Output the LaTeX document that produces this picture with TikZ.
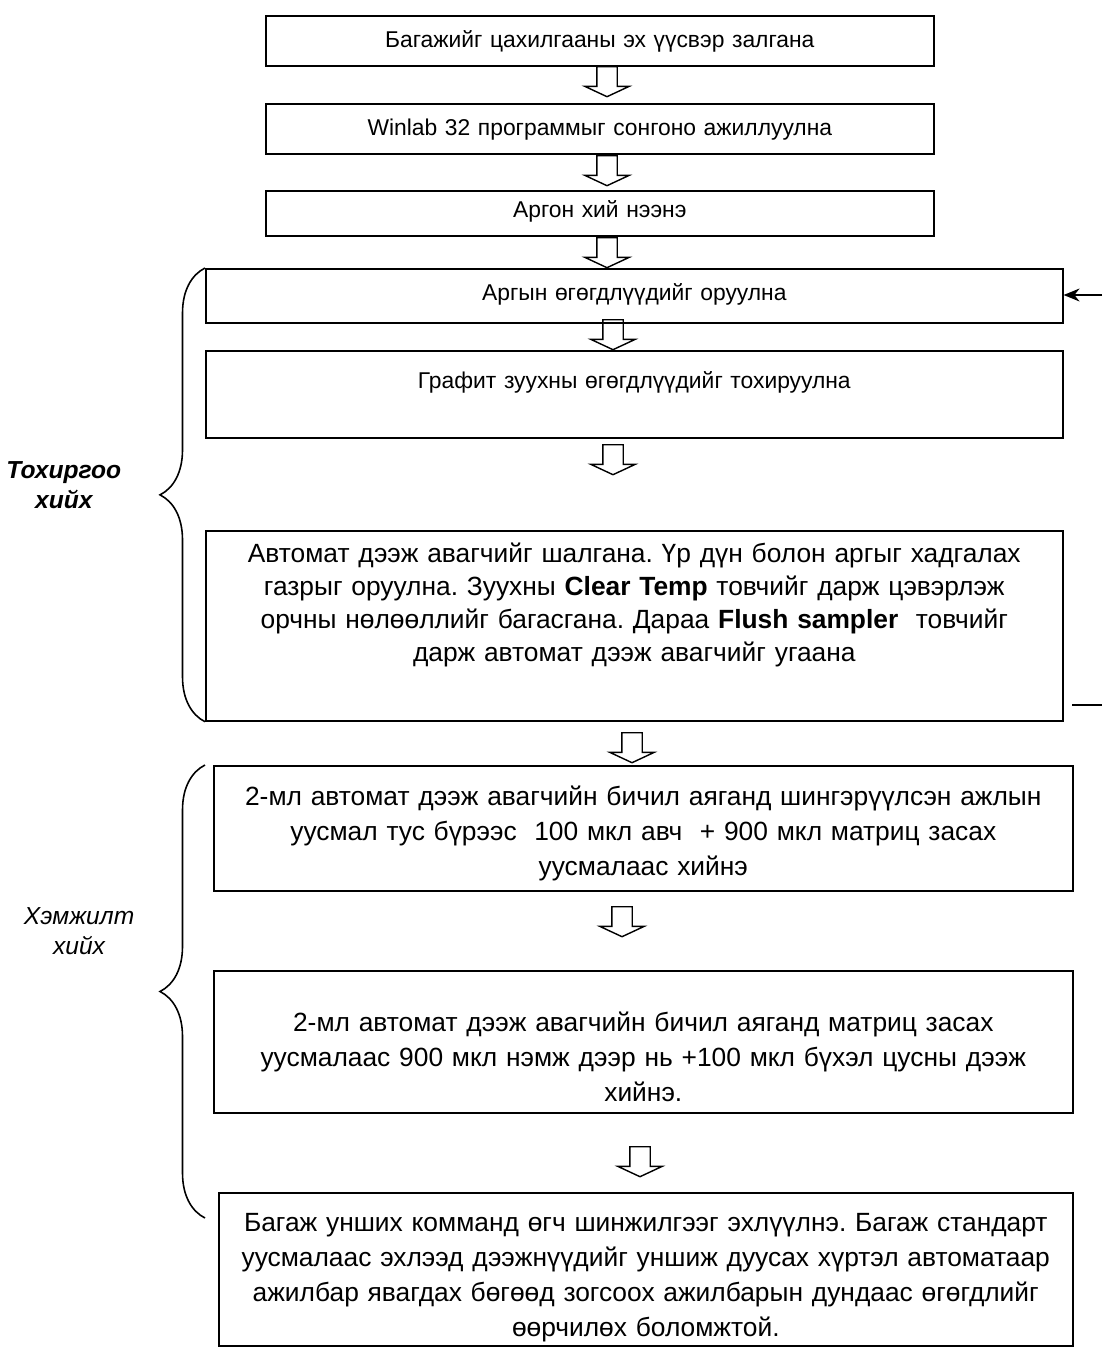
\documentclass[tikz,border=0pt]{standalone}
\usepackage{fontspec}
\setmainfont{Liberation Sans}
\usetikzlibrary{positioning,shapes.arrows,arrows.meta,decorations.pathreplacing}
\frenchspacing

\begin{document}
\begin{tikzpicture}[
	x=0.02cm, y=-0.02cm,
	stepbox/.style={draw,line width=1pt,align=center,inner xsep=0pt,inner ysep=0pt,anchor=north west,font=\fontsize{13}{16}\selectfont},
	bigbox/.style={stepbox,font=\fontsize{15}{19.8}\selectfont},
	downarrow/.style={draw,single arrow,shape border rotate=270,single arrow tip angle=130,single arrow head extend=0.24cm,minimum height=0.6cm,inner sep=0.19cm,anchor=tail,line width=0.8pt},
	bracket/.style={decorate,decoration={brace,amplitude=0.9cm},line width=0.9pt},
	grouplabel/.style={align=center,inner sep=0pt,font=\fontsize{14}{17}\selectfont\itshape}
	]
	\useasboundingbox (0,0) rectangle (1102,1348);
	% upper steps
	\node[stepbox,text width=13.36cm,text height=0.64cm,text depth=0.36cm] (power) at (265,15) {Багажийг цахилгааны эх үүсвэр залгана};
	\node[stepbox,text width=13.36cm,text height=0.64cm,text depth=0.36cm] (software) at (265,103) {Winlab 32 программыг сонгоно ажиллуулна};
	\node[stepbox,text width=13.36cm,text height=0.54cm,text depth=0.36cm] (argon) at (265,190) {Аргон хий нээнэ};
	% setup
	\node[stepbox,text width=17.14cm,text height=0.64cm,text depth=0.44cm] (method) at (205,268) {Аргын өгөгдлүүдийг оруулна};
	\node[stepbox,text width=17.14cm,text height=0.76cm,text depth=0.98cm] (furnace) at (205,350) {Графит зуухны өгөгдлүүдийг тохируулна};
	\node[bigbox,text width=17.14cm,text height=0.64cm,text depth=3.16cm,font=\fontsize{15}{18.8}\selectfont] (sampler) at (205,530)
	{Автомат дээж авагчийг шалгана. Үр дүн болон аргыг хадгалах\\
		газрыг оруулна. Зуухны \textbf{Clear Temp} товчийг дарж цэвэрлэж\\
		орчны нөлөөллийг багасгана. Дараа \textbf{Flush sampler}\ \ товчийг\\
		дарж автомат дээж авагчийг угаана};
	% measurement
	\node[bigbox,text width=17.18cm,text height=0.80cm,text depth=1.70cm] (dilution) at (213,765)
	{2-мл автомат дээж авагчийн бичил аяганд шингэрүүлсэн ажлын\\
		уусмал тус бүрээс\ \ 100 мкл авч\ \ + 900 мкл матриц засах\\
		уусмалаас хийнэ};
	\node[bigbox,text width=17.18cm,text height=1.22cm,text depth=1.62cm] (matrix) at (213,970)
	{2-мл автомат дээж авагчийн бичил аяганд матриц засах\\
		уусмалаас 900 мкл нэмж дээр нь +100 мкл бүхэл цусны дээж\\
		хийнэ.};
	\node[bigbox,text width=17.08cm,text height=0.78cm,text depth=2.28cm] (run) at (218,1192)
	{Багаж унших комманд өгч шинжилгээг эхлүүлнэ. Багаж стандарт\\
		уусмалаас эхлээд дээжнүүдийг уншиж дуусах хүртэл автоматаар\\
		ажилбар явагдах бөгөөд зогсоох ажилбарын дундаас өгөгдлийг\\
		өөрчилөх боломжтой.};
	% hollow arrows
	\node[downarrow] (arr1) at (607,66) {};
	\node[downarrow] (arr2) at (607,155) {};
	\node[downarrow] (arr3) at (607,237) {};
	\node[downarrow] (arr4) at (613,319) {};
	\node[downarrow] (arr5) at (613,444) {};
	\node[downarrow] (arr6) at (632,732) {};
	\node[downarrow] (arr7) at (622,906) {};
	\node[downarrow] (arr8) at (640,1146) {};
	% loop back on the right
	\coordinate (loopin) at (1102,295);
	\coordinate (loopout) at (1072,705);
	\coordinate (loopend) at (1102,705);
	\draw[-{Stealth[length=0.32cm,width=0.26cm]},line width=1pt] (loopin) -- (loopin -| method.east);
	\draw[line width=1pt] (loopout) -- (loopend);
	% braces
	\coordinate (btop) at (205,765);
	\coordinate (bbot) at (205,1218);
	\draw[bracket] (sampler.south west) -- (method.north west)
	node[midway,left=1.66cm,yshift=0.2cm,grouplabel,font=\fontsize{14}{17}\selectfont\bfseries\itshape] (setup) {Тохиргоо\\хийх};
	\draw[bracket] (bbot) -- (btop)
	node[midway,left=1.4cm,yshift=1.2cm,grouplabel] (measure) {Хэмжилт\\хийх};
\end{tikzpicture}
\end{document}
